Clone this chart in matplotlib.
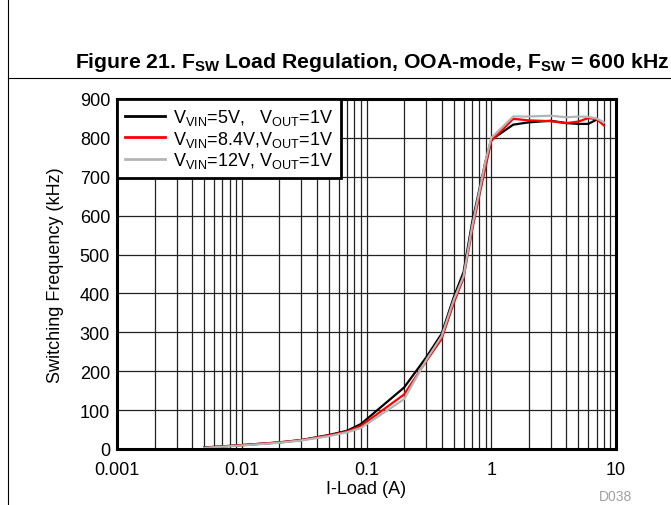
import matplotlib
matplotlib.use("Agg")
import matplotlib.pyplot as plt
from matplotlib.lines import Line2D

plt.rcParams['font.family'] = ['Liberation Sans', 'DejaVu Sans']
plt.rcParams['mathtext.fontset'] = 'custom'
plt.rcParams['mathtext.rm'] = 'Liberation Sans'
plt.rcParams['mathtext.bf'] = 'Liberation Sans:bold'
plt.rcParams['mathtext.default'] = 'regular'

# ---- data ----
x_5v = [0.005, 0.01, 0.02, 0.03, 0.05, 0.07, 0.09, 0.2, 0.3, 0.4, 0.5, 0.6, 0.7, 0.8, 0.9, 1.0, 1.5, 2, 3, 4, 5, 6, 7]
f_5v = [4, 10, 17, 23, 36, 47, 64, 158, 235, 296, 390, 455, 580, 665, 740, 795, 834, 840, 844, 838, 836, 836, 847]

x_84v = [0.0055, 0.01, 0.02, 0.03, 0.05, 0.07, 0.09, 0.2, 0.3, 0.4, 0.5, 0.6, 0.7, 0.8, 0.9, 1.0, 1.5, 2, 3, 4, 5, 6, 7, 8]
f_84v = [4, 10, 17, 23, 35, 45, 59, 140, 225, 283, 375, 440, 560, 650, 725, 792, 849, 845, 843, 838, 842, 851, 848, 832]

x_12v = [0.005, 0.01, 0.02, 0.03, 0.05, 0.07, 0.09, 0.2, 0.3, 0.4, 0.5, 0.6, 0.7, 0.8, 0.9, 1.0, 1.5, 2, 3, 4, 5, 6, 7, 8]
f_12v = [3, 9, 16, 22, 33, 43, 54, 128, 228, 290, 383, 445, 570, 660, 740, 800, 855, 855, 857, 853, 855, 854, 850, 840]

labels = [r'V$_{VIN}$=5V,   V$_{OUT}$=1V',
          r'V$_{VIN}$=8.4V,V$_{OUT}$=1V',
          r'V$_{VIN}$=12V, V$_{OUT}$=1V']
colors = ['#000000', '#ff0000', '#b4b4b4']

x_ticks = [0.001, 0.01, 0.1, 1, 10]
x_ticklabels = ['0.001', '0.01', '0.1', '1', '10']
y_ticks = list(range(0, 1000, 100))

FS = 13

fig = plt.figure(figsize=(6.71, 5.06), dpi=100)
ax = fig.add_axes([117/671, 1-450/506, (616-117)/671, (450-100)/506])

series = [(x_5v, f_5v), (x_84v, f_84v), (x_12v, f_12v)]
for (xs, ys), c, lab in zip(series, colors, labels):
    ax.plot(xs, ys, color=c, lw=1.6, label=lab, solid_joinstyle='miter')

ax.set_xscale('log')
ax.set_xlim(0.001, 10)
ax.set_ylim(0, 900)
ax.set_xticks(x_ticks)
ax.set_xticklabels(x_ticklabels)
ax.set_yticks(y_ticks)
ax.xaxis.set_minor_locator(matplotlib.ticker.LogLocator(base=10, subs=range(2, 10)))
ax.xaxis.set_minor_formatter(matplotlib.ticker.NullFormatter())
ax.tick_params(axis='both', which='both', length=0, labelsize=FS, colors='black')
ax.tick_params(axis='x', pad=9)
ax.tick_params(axis='y', pad=5)
ax.grid(True, which='major', axis='both', color='#222222', lw=0.9)
ax.grid(True, which='minor', axis='x', color='#222222', lw=0.9)
ax.set_axisbelow(True)
for s in ax.spines.values():
    s.set_linewidth(2.2)
ax.set_xlabel('I-Load (A)', fontsize=FS, labelpad=1)
ax.set_ylabel('Switching Frequency (kHz)', fontsize=FS, labelpad=11)

leg = ax.legend(loc='upper left', bbox_to_anchor=(0, 1), borderaxespad=0,
                fancybox=False, framealpha=1, edgecolor='black', fontsize=FS,
                handlelength=2.2, handletextpad=0.45, labelspacing=0.08,
                borderpad=0.45)
leg.get_frame().set_linewidth(2.0)
for l in leg.get_lines():
    l.set_linewidth(2.0)

fig.text(75/671, 1-63/506,
         r'Figure 21. F$_{\mathbf{SW}}$ Load Regulation, OOA-mode, F$_{\mathbf{SW}}$ = 600 kHz',
         fontsize=15.3, fontweight='bold', ha='left', va='center')
fig.add_artist(Line2D([8/671, 1], [1-79/506, 1-79/506], color='black', lw=0.8, transform=fig.transFigure))
fig.add_artist(Line2D([8/671, 8/671], [0, 1], color='black', lw=0.8, transform=fig.transFigure))
fig.text(616/671, 1-497/506, 'D038', fontsize=10, color='#a0a0a0', ha='center', va='center')
fig.text(660/671, 1+3/506, 'D037', fontsize=8, color='#d8d8d8', ha='left', va='center')

fig.savefig('out.png', dpi=100)
